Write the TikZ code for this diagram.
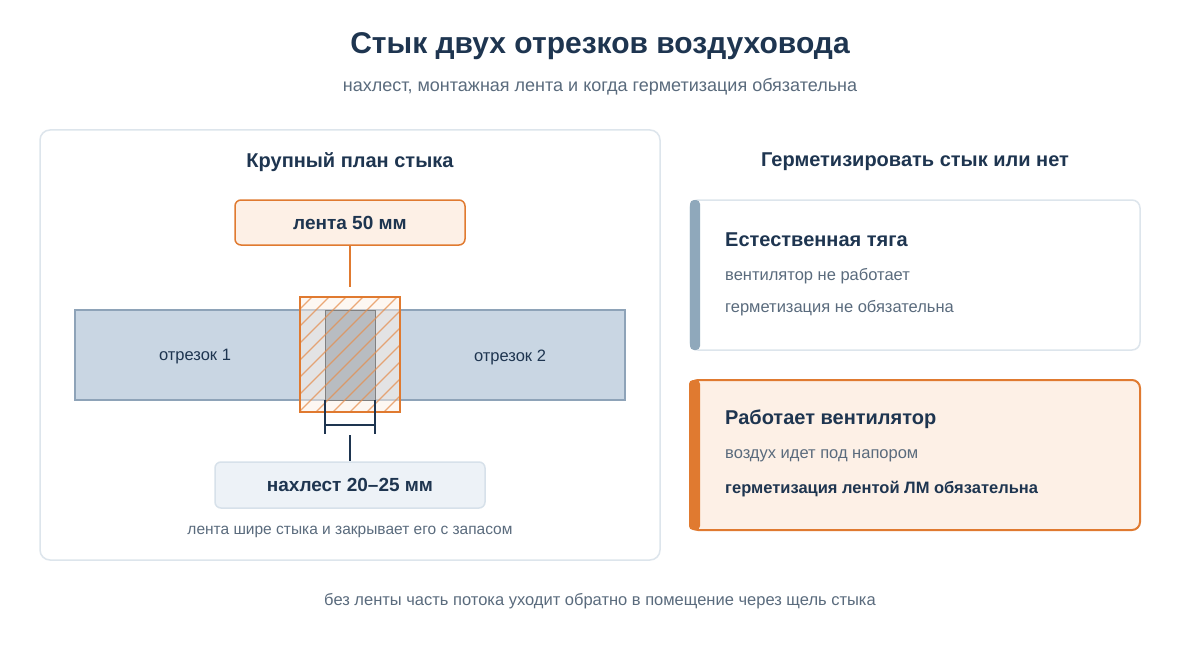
\documentclass[tikz,border=0pt]{standalone}
\usepackage{fontspec}
\setmainfont{Liberation Sans}
\definecolor{dark}{HTML}{1E3550}
\definecolor{grayt}{HTML}{5A6B7D}
\definecolor{pan}{HTML}{DDE5EC}
\definecolor{org}{HTML}{E07A30}
\definecolor{orgl}{HTML}{FDF0E6}
\definecolor{duct}{HTML}{C9D6E3}
\definecolor{ductb}{HTML}{8EA3B8}
\definecolor{lbl}{HTML}{EDF2F7}
\definecolor{lblb}{HTML}{D7E1EA}
\definecolor{bar}{HTML}{8FA8BB}
\definecolor{ovl}{HTML}{B4B8BE}
\begin{document}
\begin{tikzpicture}[x=1pt,y=-1pt,
  txt/.style={inner sep=0pt,text=dark},
  hd/.style={txt,font=\bfseries\fontsize{20}{22}\selectfont},
  sm/.style={inner sep=0pt,text=grayt,font=\fontsize{16.5}{19}\selectfont},
  box/.style={draw,rounded corners=6pt,line width=1.5pt}]
\useasboundingbox[fill=white] (0,0) rectangle (1200,650);
\node[txt,font=\bfseries\fontsize{30}{33}\selectfont] (title) at (600,46) {Стык двух отрезков воздуховода};
\node[sm,font=\fontsize{18}{20}\selectfont] (sub) at (600,87) {нахлест, монтажная лента и когда герметизация обязательна};
\draw[pan,line width=1.5pt,fill=white,rounded corners=10pt] (40,130) rectangle (660,560);
\node[hd] (lh) at (350,162) {Крупный план стыка};
\node[box,draw=org,fill=orgl,minimum width=230pt,minimum height=45pt,txt,font=\bfseries\fontsize{19}{21}\selectfont] (tl) at (350,222.5) {лента 50 мм};
\coordinate (tt) at (350,287);
\draw[org,line width=2pt] (tl.south) -- (tt);
\draw[ductb,fill=duct,line width=1.5pt] (75,310) rectangle (625,400);
\node[txt,font=\fontsize{16.5}{19}\selectfont] (s1) at (195,357) {отрезок 1};
\node[txt,font=\fontsize{16.5}{19}\selectfont] (s2) at (510,357) {отрезок 2};
\fill[orgl,opacity=0.5] (300,297) rectangle (400,412);
\draw[gray,fill=ovl,fill opacity=0.9,line width=1pt] (325,310) rectangle (375,400);
\begin{scope}
\clip (300,297) rectangle (400,412);
\foreach \i in {0,...,14}{
  \draw[org!85,line width=1.2pt,opacity=0.75] (300+\i*17-120,412) -- (300+\i*17,292);}
\end{scope}
\draw[org,line width=2pt] (300,297) rectangle (400,412);
\draw[dark,line width=2pt] (325,400) -- (325,434) (375,400) -- (375,434) (325,425) -- (375,425);
\coordinate (dm) at (350,435);
\node[box,draw=lblb,fill=lbl,minimum width=270pt,minimum height=46pt,txt,font=\bfseries\fontsize{19}{21}\selectfont] (nl) at (350,485) {нахлест 20–25 мм};
\draw[dark,line width=2pt] (dm) -- (nl.north);
\node[sm,font=\fontsize{15.5}{17}\selectfont] (cap) at (350,532) {лента шире стыка и закрывает его с запасом};
\node[hd] (rh) at (915,162) {Герметизировать стык или нет};
% card 1
\draw[pan,line width=1.5pt,fill=white,rounded corners=8pt] (690,200) rectangle (1140,350);
\fill[bar,rounded corners=4pt] (690,200) rectangle (700,350);
\node[hd,anchor=west] (c1) at (725,240) {Естественная тяга};
\node[sm,anchor=west] (c1a) at (725,276) {вентилятор не работает};
\node[sm,anchor=west] (c1b) at (725,308) {герметизация не обязательна};
% card 2
\draw[org,line width=2pt,fill=orgl,rounded corners=8pt] (690,380) rectangle (1140,530);
\fill[org,rounded corners=4pt] (689,380) rectangle (700,530);
\node[hd,anchor=west] (c2) at (725,419) {Работает вентилятор};
\node[sm,anchor=west] (c2a) at (725,456) {воздух идет под напором};
\node[txt,anchor=west,font=\bfseries\fontsize{16.5}{19}\selectfont] (c2b) at (725,489) {герметизация лентой ЛМ обязательна};
\node[sm] (foot) at (600,601) {без ленты часть потока уходит обратно в помещение через щель стыка};
\end{tikzpicture}
\end{document}
